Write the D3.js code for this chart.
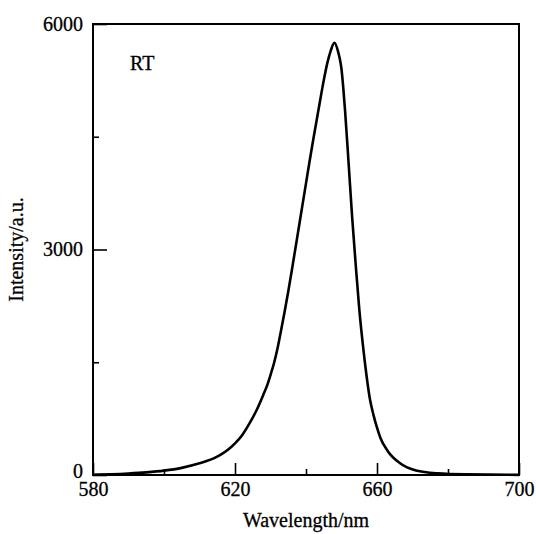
<!DOCTYPE html>
<html>
<head>
<meta charset="utf-8">
<script src="https://cdn.jsdelivr.net/npm/d3@7"></script>
<style>
  html, body { margin: 0; padding: 0; background: #fff; }
  svg text { font-family: "Liberation Serif", "Times New Roman", serif; fill: #000; stroke: #000; stroke-width: 0.3px; }
</style>
</head>
<body>
<svg id="chart" width="536" height="534"></svg>
<script>
// Data
const wavelength = [580, 585, 590, 595, 600, 605, 610, 612, 614, 616, 618, 620, 622, 624, 626, 628, 629, 630, 631, 632, 633, 634, 635, 636, 637, 638, 639, 640, 641, 642, 643, 644, 645, 646, 647, 648, 649, 649.5, 650, 650.5, 651, 652, 653, 654, 655, 656, 657, 658, 659, 660, 661, 663, 666.5, 671, 677, 685, 700];
const intensity  = [4, 10, 20, 35, 58, 95, 155, 185, 222, 270, 335, 420, 530, 680, 855, 1070, 1185, 1330, 1490, 1690, 1930, 2180, 2440, 2720, 3010, 3300, 3590, 3880, 4170, 4450, 4720, 4990, 5250, 5480, 5650, 5750, 5640, 5540, 5400, 5150, 4850, 4150, 3430, 2800, 2210, 1740, 1340, 1010, 800, 630, 490, 320, 156, 60, 22, 8, 2];
const xMajorTicks = [580, 620, 660, 700];
const xMinorTicks = [600, 640, 680];
const yMajorTicks = [0, 3000, 6000];
const yMinorTicks = [1500, 4500];
const xLabel = "Wavelength/nm";
const yLabel = "Intensity/a.u.";
const annotation = "RT";

const svg = d3.select("#chart");
const mLeft = 93, mRight = 519, mTop = 24, mBottom = 475;

const x = d3.scaleLinear().domain([580, 700]).range([mLeft, mRight]);
const y = d3.scaleLinear().domain([0, 6000]).range([mBottom, mTop]);

// Frame
svg.append("rect")
  .attr("x", mLeft).attr("y", mTop)
  .attr("width", mRight - mLeft).attr("height", mBottom - mTop)
  .attr("fill", "none").attr("stroke", "#000").attr("stroke-width", 2);

// Bottom axis (inward ticks)
const gx = svg.append("g").attr("transform", `translate(0,${mBottom})`)
  .call(d3.axisBottom(x).tickValues(xMajorTicks).tickSize(-12).tickFormat(d3.format("d")));
gx.select(".domain").remove();
gx.selectAll(".tick line").attr("stroke", "#000").attr("stroke-width", 1.6);
gx.selectAll(".tick text").style("font-size", "20px").attr("dy", "0.71em").attr("y", 7);
const gxm = svg.append("g").attr("transform", `translate(0,${mBottom})`)
  .call(d3.axisBottom(x).tickValues(xMinorTicks).tickSize(-6).tickFormat(""));
gxm.select(".domain").remove();
gxm.selectAll(".tick line").attr("stroke", "#000").attr("stroke-width", 1.6);

// Left axis (inward ticks)
const gy = svg.append("g").attr("transform", `translate(${mLeft},0)`)
  .call(d3.axisLeft(y).tickValues(yMajorTicks).tickSize(-14).tickFormat(d3.format("d")));
gy.select(".domain").remove();
gy.selectAll(".tick line").attr("stroke", "#000").attr("stroke-width", 1.6);
gy.selectAll(".tick text").style("font-size", "20px").attr("x", -10)
  .attr("dy", d => d === 0 ? "0.1em" : "0.32em");
const gym = svg.append("g").attr("transform", `translate(${mLeft},0)`)
  .call(d3.axisLeft(y).tickValues(yMinorTicks).tickSize(-6).tickFormat(""));
gym.select(".domain").remove();
gym.selectAll(".tick line").attr("stroke", "#000").attr("stroke-width", 1.6);

// Curve
const pts = wavelength.map((w, i) => [w, intensity[i]]);
const line = d3.line().x(d => x(d[0])).y(d => y(d[1])).curve(d3.curveMonotoneX);
svg.append("path").datum(pts)
  .attr("d", line)
  .attr("fill", "none").attr("stroke", "#000").attr("stroke-width", 2.6)
  .attr("stroke-linejoin", "round");

// Labels
svg.append("text").attr("x", (mLeft + mRight) / 2).attr("y", 527)
  .attr("text-anchor", "middle").style("font-size", "20px").text(xLabel);
svg.append("text").attr("transform", `translate(23,${(mTop + mBottom) / 2}) rotate(-90)`)
  .attr("text-anchor", "middle").style("font-size", "20px").text(yLabel);
svg.append("text").attr("x", 130).attr("y", 70)
  .style("font-size", "20px").text(annotation);
</script>
</body>
</html>
